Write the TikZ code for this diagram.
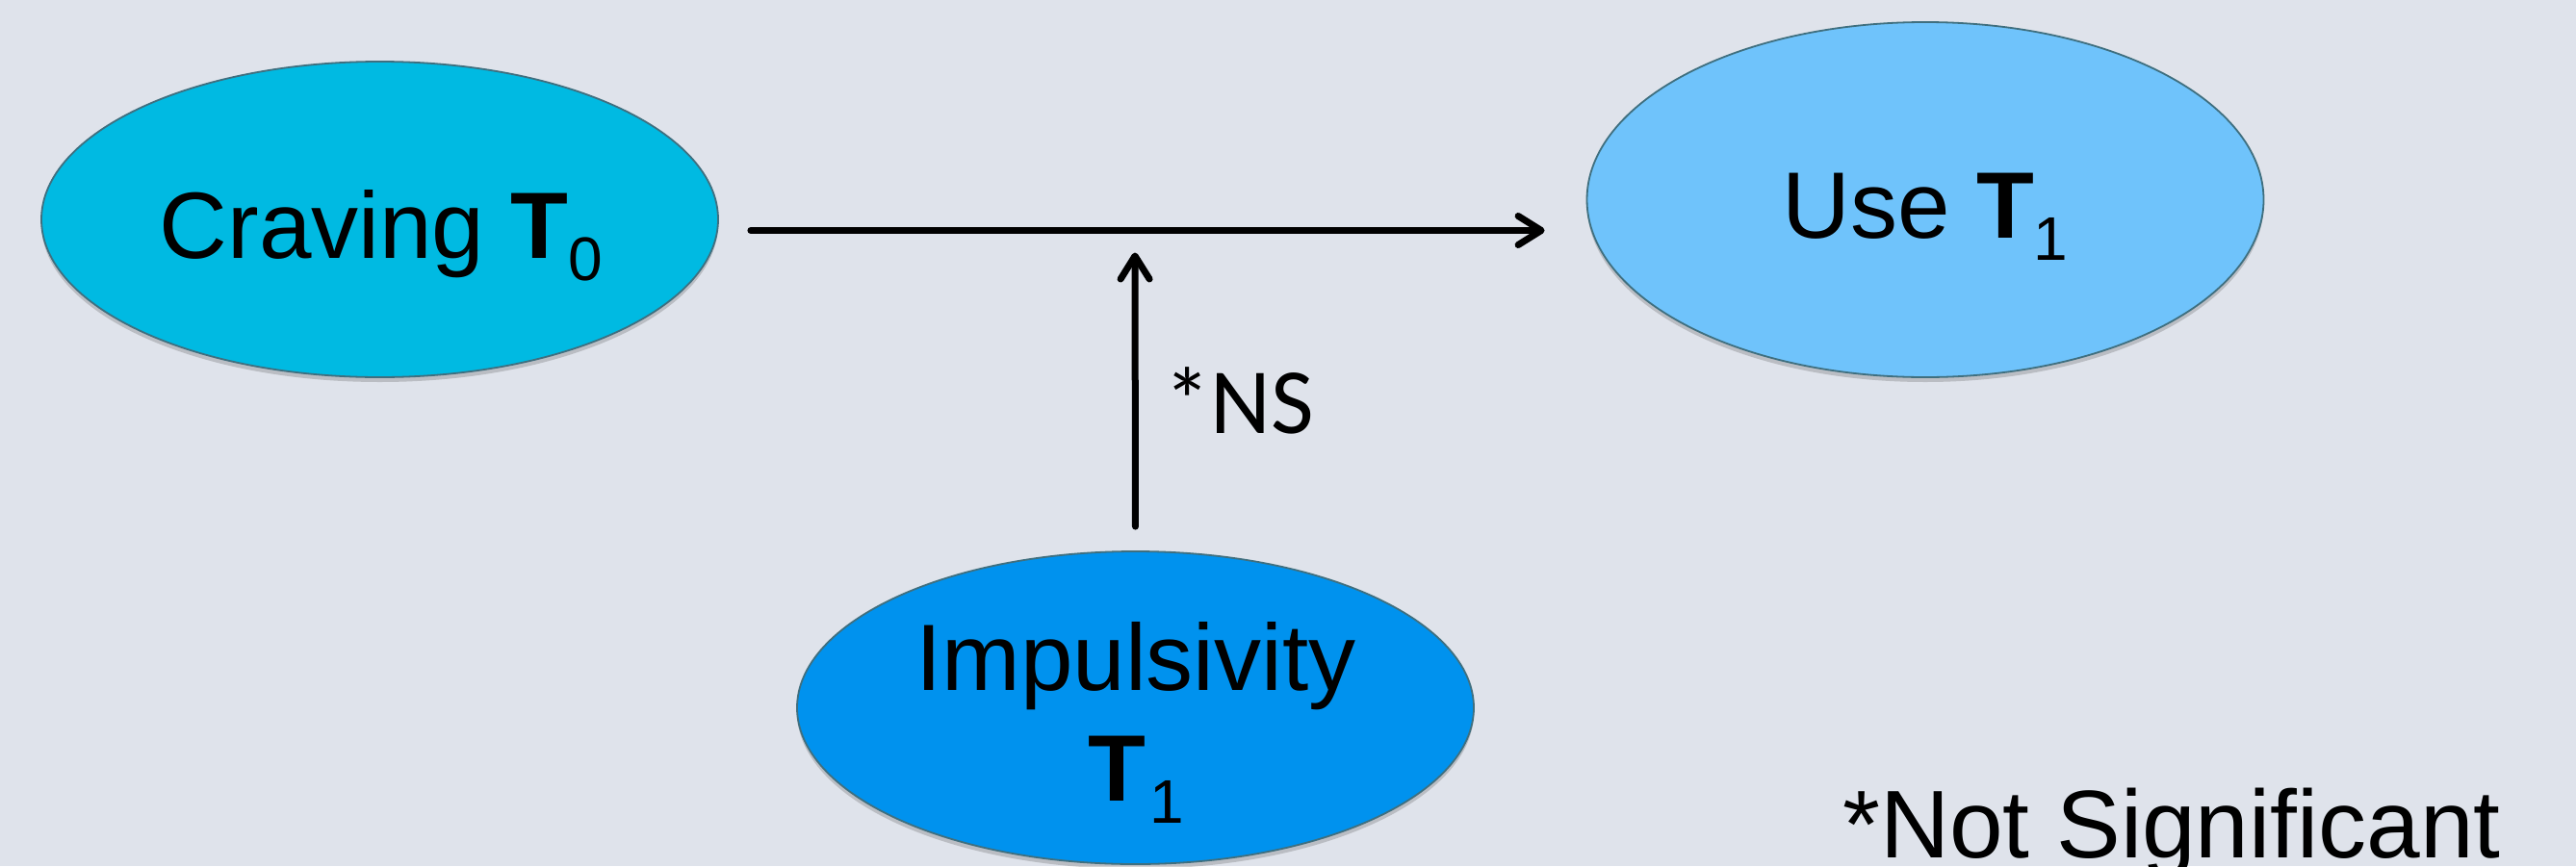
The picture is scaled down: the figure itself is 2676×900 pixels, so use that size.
\documentclass[tikz,border=0pt]{standalone}
\usepackage{fontspec}
\setmainfont{Liberation Sans}
\newfontfamily\calib{Carlito}
\usetikzlibrary{shapes.geometric,arrows.meta,shadows}
\definecolor{bgcol}{HTML}{DFE3EB}
\definecolor{cravecol}{HTML}{00BAE2}
\definecolor{usecol}{HTML}{6FC3FB}
\definecolor{impcol}{HTML}{0092EE}
\definecolor{rimcol}{HTML}{3F6F7F}
\newcommand{\subnum}[1]{\raisebox{-23pt}{\fontsize{64}{64}\selectfont #1}}
\tikzset{
  bubble/.style={ellipse, draw=rimcol, line width=1.8pt, inner sep=0pt,
    minimum width=703pt, drop shadow={shadow xshift=0pt, shadow yshift=-5pt, opacity=0.25, fill=black!70}},
  bigtext/.style={font=\fontsize{98}{115}\selectfont, anchor=base, inner sep=0pt, align=center},
  conn/.style={line width=7pt, line cap=round, line join=round, -{Straight Barb[length=24pt, width=30pt, round]},
    preaction={draw=black!45, opacity=0.35, transform canvas={yshift=-3pt}}},
}
\begin{document}
\begin{tikzpicture}[x=1pt, y=-1pt]
\fill[bgcol] (0,0) rectangle (2676,900);
\useasboundingbox (0,0) rectangle (2676,900);
\node[bubble, fill=cravecol, minimum height=328pt] (c) at (394.5,228) {};
\node[bubble, fill=usecol, minimum height=369pt] (u) at (2000,207.5) {};
\node[bubble, fill=impcol, minimum height=325pt] (i) at (1179.5,735.5) {};
\node[bigtext] (ct) at (396,268) {Craving \textbf{T}\subnum{0}};
\node[bigtext] (ut) at (2000,247) {Use \textbf{T}\subnum{1}};
\node[bigtext] (it) at (1180,832) {Impulsivity\\\textbf{T}\kern4pt\subnum{1}};
\coordinate (m) at (1179,239.5);
\draw[conn, shorten <=33pt, shorten >=43pt] (c.east |- m) -- (u.west |- m);
\draw[conn, shorten <=25pt, shorten >=23pt] (i.north) -- (m);
\node[font=\calib\fontsize{97}{97}\selectfont, anchor=base west, inner sep=0pt] (ns) at (1209,450) {*NS};
\node[font=\fontsize{100}{100}\selectfont, anchor=base west, inner sep=0pt] (note) at (1914,891) {*Not Significant};
\end{tikzpicture}
\end{document}
